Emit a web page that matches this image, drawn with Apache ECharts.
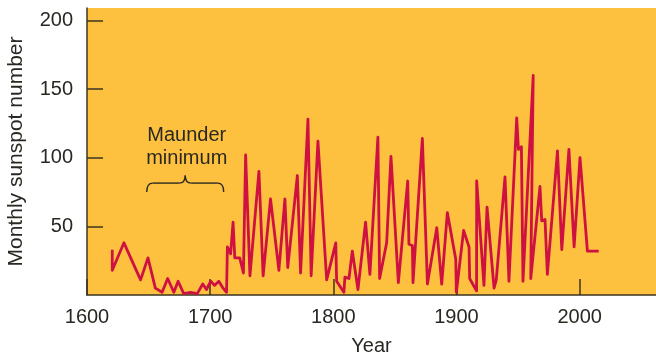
<!DOCTYPE html>
<html>
<head>
<meta charset="utf-8">
<script src="https://cdn.jsdelivr.net/npm/echarts@6/dist/echarts.min.js"></script>
<style>
  html, body { margin: 0; padding: 0; background: #fff; }
  #chart { width: 656px; height: 358px; }
</style>
</head>
<body>
<div id="chart"></div>
<script>
// year / monthly sunspot number
const years = [
  1620.5, 1620.5, 1630, 1643.5, 1649.5, 1655.5, 1661, 1665.5, 1670.5, 1674,
  1678.5, 1684, 1689.5, 1694, 1697, 1700.5, 1703.5, 1707, 1710.5, 1713.3,
  1714, 1716.6, 1718.6, 1720, 1724, 1727, 1728.8, 1732.3, 1739.6, 1743,
  1749, 1755.8, 1760.7, 1763, 1770.8, 1773.4, 1779.4, 1782, 1787.5, 1794.6,
  1802, 1802.7, 1808.6, 1809.4, 1812.7, 1815.4, 1820, 1826.2, 1829.7, 1836.2,
  1837.6, 1843.3, 1846.8, 1852.8, 1860.4, 1861.4, 1864.2, 1864.7, 1872.3, 1876.4,
  1884, 1888, 1892.6, 1899.4, 1899.9, 1905.8, 1910.2, 1910.7, 1916.3, 1916.4,
  1922.3, 1924.8, 1930.5, 1932.3, 1939.4, 1942.6, 1948.9, 1950.3, 1952.7, 1954,
  1962.3, 1960.3, 1967.8, 1969.2, 1971.9, 1973.8, 1982, 1985.5, 1991.3, 1995.5,
  2000.3, 2006.3, 2015.5
];
const sunspots = [
  33, 18, 38, 11, 27, 5, 2, 12, 2, 10,
  1, 2, 1, 8, 4, 10, 7, 10, 5, 2,
  35, 30, 53, 27, 27, 16, 102, 14, 90, 14,
  70, 18, 70, 20, 87, 16, 128, 14, 112, 11,
  38, 10, 2, 13, 12, 32, 4, 53, 15, 115,
  12, 38, 101, 9, 83, 37, 36, 9, 114, 8,
  49, 8, 60, 26, 2, 47, 35, 12, 3, 83,
  7, 64, 5, 11, 86, 10, 129, 106, 108, 10,
  160, 12, 79, 54, 55, 15, 105, 33, 106, 35,
  100, 32, 32
];
const yearTicks = [1600, 1700, 1800, 1900, 2000];
const countTicks = [50, 100, 150, 200];

// annotation: Maunder minimum brace, in data units
const braceYears = [1648.5, 1711];
const braceValues = [75, 81.5, 87];
const noteLines = ['Maunder', 'minimum'];
const noteAt = [1681, 116.5, 99.6];

const font = '"Liberation Sans", Arial, sans-serif';
const ink = '#2a2822';
const axisInk = '#3b3520';

const chart = echarts.init(document.getElementById('chart'));

const option = {
  animation: false,
  grid: {
    left: 87, right: 0, top: 8, bottom: 63,
    outerBoundsMode: 'none',
    containLabel: false,
    show: true,
    backgroundColor: '#FDC13F',
    borderWidth: 0
  },
  xAxis: {
    type: 'value',
    min: 1600, max: 2062,
    name: 'Year',
    nameLocation: 'middle',
    nameGap: 41,
    nameTextStyle: { fontFamily: font, fontSize: 20, color: ink },
    axisLine: { show: true, lineStyle: { color: axisInk, width: 1.5 } },
    axisTick: {
      show: true, inside: true, length: 16,
      customValues: yearTicks,
      lineStyle: { color: axisInk, width: 1.5 }
    },
    axisLabel: {
      customValues: yearTicks,
      formatter: (v) => String(v),
      margin: 12,
      fontFamily: font, fontSize: 20, color: ink
    },
    splitLine: { show: false }
  },
  yAxis: {
    type: 'value',
    min: 0, max: 209,
    name: 'Monthly sunspot number',
    nameLocation: 'middle',
    nameGap: 60,
    nameTextStyle: { fontFamily: font, fontSize: 21, color: ink },
    axisLine: { show: true, lineStyle: { color: axisInk, width: 1.5 } },
    axisTick: {
      show: true, inside: true, length: 16,
      customValues: countTicks,
      lineStyle: { color: axisInk, width: 1.5 }
    },
    axisLabel: {
      customValues: countTicks,
      formatter: (v) => String(v),
      margin: 14,
      fontFamily: font, fontSize: 20, color: ink
    },
    splitLine: { show: false }
  },
  series: [
    {
      type: 'line',
      data: years.map((y, i) => [y, sunspots[i]]),
      showSymbol: false,
      symbol: 'none',
      lineStyle: { color: '#CE1141', width: 2.8, join: 'round' },
      z: 3
    }
  ]
};

chart.setOption(option);

// brace + label placed through the axes
function drawNote() {
  const p = (x, v) => chart.convertToPixel({ gridIndex: 0 }, [x, v]);
  const [x0, yEnd] = p(braceYears[0], braceValues[0]);
  const [x1] = p(braceYears[1], braceValues[0]);
  const yBar = p(braceYears[0], braceValues[1])[1];
  const yTop = p(braceYears[0], braceValues[2])[1];
  const xc = (x0 + x1) / 2;
  const r = 6;
  const stroke = { stroke: ink, lineWidth: 1.4, fill: null };
  const curve = (a, b, c) => ({
    type: 'bezierCurve', z: 10,
    shape: { x1: a[0], y1: a[1], cpx1: b[0], cpy1: b[1], x2: c[0], y2: c[1] },
    style: stroke
  });
  const seg = (a, b) => ({
    type: 'line', z: 10,
    shape: { x1: a[0], y1: a[1], x2: b[0], y2: b[1] },
    style: stroke
  });
  const t1 = p(noteAt[0], noteAt[1]);
  const t2 = p(noteAt[0], noteAt[2]);
  chart.setOption({
    graphic: [
      curve([x0, yEnd], [x0, yBar], [x0 + r, yBar]),
      seg([x0 + r, yBar], [xc - r, yBar]),
      curve([xc - r, yBar], [xc, yBar], [xc, yTop]),
      curve([xc, yTop], [xc, yBar], [xc + r, yBar]),
      seg([xc + r, yBar], [x1 - r, yBar]),
      curve([x1 - r, yBar], [x1, yBar], [x1, yEnd]),
      {
        type: 'text', z: 10, x: t1[0], y: t1[1],
        style: { text: noteLines[0], font: '20px ' + font, fill: ink, align: 'center', verticalAlign: 'middle' }
      },
      {
        type: 'text', z: 10, x: t2[0], y: t2[1],
        style: { text: noteLines[1], font: '20px ' + font, fill: ink, align: 'center', verticalAlign: 'middle' }
      }
    ]
  });
}
drawNote();
</script>
</body>
</html>
